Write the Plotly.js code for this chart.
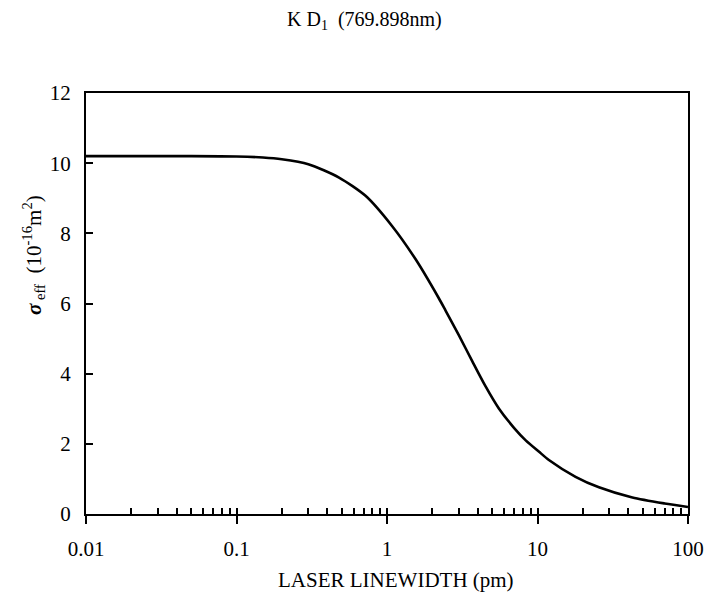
<!DOCTYPE html>
<html>
<head>
<meta charset="utf-8">
<script src="https://cdn.plot.ly/plotly-3.0.1.min.js"></script>
<style>html,body{margin:0;padding:0;background:#fff;}#chart{width:707px;height:600px;}</style>
</head>
<body>
<div id="chart"></div>
<script>
// Laser linewidth (pm) vs effective cross-section sigma_eff (10^-16 m^2)
var linewidth = [0.01, 0.02, 0.05, 0.1, 0.15, 0.2, 0.3, 0.48, 0.72, 1.08, 1.55, 2.21, 2.45, 3.0, 3.69, 4.5, 5.55, 7.0, 8.35, 10.2, 11.9, 17.9, 25.6, 42.7, 70, 100];
var sigmaEff  = [10.2, 10.2, 10.2, 10.19, 10.16, 10.11, 9.97, 9.59, 9.07, 8.21, 7.26, 6.15, 5.8, 5.1, 4.35, 3.65, 3.0, 2.45, 2.1, 1.78, 1.54, 1.06, 0.76, 0.47, 0.3, 0.2];
var xTickVals = [0.01, 0.1, 1, 10, 100];
var xTickText = ['0.01', '0.1', '1', '10', '100'];
var xMinorTickVals = [0.01, 0.02, 0.03, 0.04, 0.05, 0.06, 0.07, 0.08, 0.09,
                      0.1, 0.2, 0.3, 0.4, 0.5, 0.6, 0.7, 0.8, 0.9,
                      1, 2, 3, 4, 5, 6, 7, 8, 9,
                      10, 20, 30, 40, 50, 60, 70, 80, 90, 100];
var titleText = 'K D<sub>1</sub>  (769.898nm)';
var xTitle = 'LASER LINEWIDTH (pm)';
var yTitle = '<b><i>σ</i></b><sub> eff</sub>  (10<sup>-16</sup>m<sup>2</sup>)';

var fontFam = 'Liberation Serif, serif';

var traces = [
  {x: linewidth, y: sigmaEff, type: 'scatter', mode: 'lines',
   line: {color: '#000', width: 2.6, shape: 'spline', smoothing: 0.7},
   hoverinfo: 'x+y'},
  {x: linewidth, y: sigmaEff, xaxis: 'x2', type: 'scatter', mode: 'lines',
   line: {color: 'rgba(0,0,0,0)', width: 0}, hoverinfo: 'skip', showlegend: false}
];

var layout = {
  width: 707, height: 600,
  margin: {l: 86, r: 19, t: 93, b: 86},
  paper_bgcolor: '#fff', plot_bgcolor: '#fff',
  showlegend: false,
  font: {family: fontFam, color: '#000', size: 18},
  xaxis: {
    type: 'log', range: [-2, 2],
    tickvals: xTickVals, ticktext: xTickText,
    ticks: 'outside', ticklen: 8, tickwidth: 2, tickcolor: '#000',
    showline: true, linewidth: 2, linecolor: '#000', mirror: true,
    showgrid: false, zeroline: false,
    tickfont: {family: fontFam, size: 21},
    ticklabelstandoff: 7
  },
  xaxis2: {
    type: 'log', range: [-2, 2], overlaying: 'x', anchor: 'y', side: 'bottom',
    tickvals: xMinorTickVals, ticks: 'inside', ticklen: 6, tickwidth: 2, tickcolor: '#000',
    showticklabels: false, showline: false, showgrid: false, zeroline: false
  },
  yaxis: {
    range: [0, 12], dtick: 2,
    ticks: 'inside', ticklen: 7, tickwidth: 2, tickcolor: '#000',
    showline: true, linewidth: 2, linecolor: '#000', mirror: true,
    showgrid: false, zeroline: false,
    tickfont: {family: fontFam, size: 21},
    ticklabelstandoff: 9
  },
  annotations: [
    {text: titleText, xref: 'paper', yref: 'paper', x: 0.463, y: 1, yshift: 73,
     xanchor: 'center', yanchor: 'middle', showarrow: false,
     font: {family: fontFam, size: 20, color: '#000'}},
    {text: xTitle, xref: 'paper', yref: 'paper', x: 0.515, y: 0, yshift: -66,
     xanchor: 'center', yanchor: 'middle', showarrow: false,
     font: {family: fontFam, size: 21, color: '#000'}},
    {text: yTitle, xref: 'paper', yref: 'paper', x: 0, xshift: -53, y: 0.615,
     xanchor: 'center', yanchor: 'middle', textangle: -90, showarrow: false,
     font: {family: fontFam, size: 21, color: '#000'}}
  ]
};

Plotly.newPlot('chart', traces, layout, {displayModeBar: false, staticPlot: true});
</script>
</body>
</html>
